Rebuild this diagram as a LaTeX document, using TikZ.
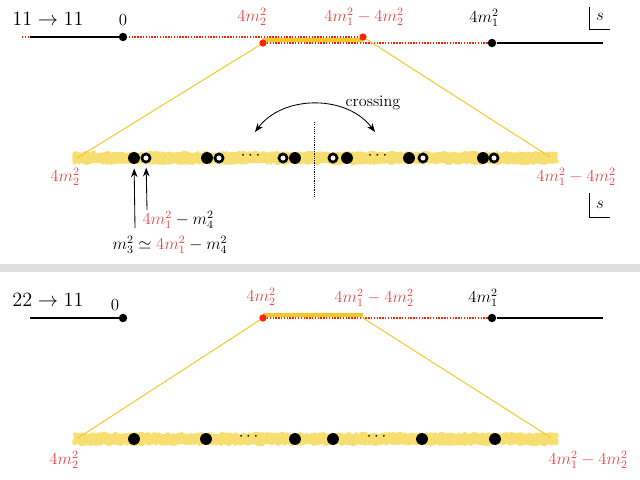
\documentclass[tikz,border=0pt]{standalone}
\usepackage{amsmath}
\usepackage{amssymb}
\usepackage{xcolor}
\usetikzlibrary{arrows.meta, positioning, calc, backgrounds, decorations.pathmorphing}
\definecolor{cRed}{RGB}{232,72,72}
\definecolor{cDot}{RGB}{255,36,0}
\definecolor{cBand}{RGB}{247,222,112}
\definecolor{cGold}{RGB}{242,200,40}
\definecolor{cSep}{RGB}{222,222,222}
\tikzset{
    linedot/.style ={circle, fill=black, inner sep=0pt, minimum size=6pt},
    reddot/.style  ={circle, fill=cDot, inner sep=0pt, minimum size=5.2pt},
    banddot/.style ={circle, fill=black, inner sep=0pt, minimum size=8.4pt},
    opendot/.style ={circle, draw=black, line width=1.9pt, fill=white, inner sep=0pt, minimum size=5.8pt},
    thresh/.style  ={line width=2pt, black},
    cutline/.style ={line width=1.2pt, cDot, dash pattern=on 1pt off 1pt},
    sheet/.style   ={line width=3pt, cGold},
    zoomline/.style={line width=0.7pt, cGold},
    band/.style    ={fill=cBand, decorate, decoration={random steps, segment length=1.6pt, amplitude=0.9pt}},
    flowarrow/.style={-{Stealth[length=2.2mm]}, semithick},
    lbl/.style     ={inner sep=1pt},
    redlbl/.style  ={inner sep=1pt, text=cRed},
}

\begin{document}
\begin{tikzpicture}[x=0.025cm, y=-0.025cm, font=\fontsize{11.5pt}{14pt}\selectfont]
    \useasboundingbox (0,0) rectangle (640,480);
    % ---- top panel: 11 -> 11
    \node[lbl, font=\Large] (proc1) at (48,19) {$11\to11$};
    \coordinate (tl) at (22,37);
    \coordinate (tlb) at (30,37);
    \coordinate (tr) at (603,43);
    \node[linedot] (zero1) at (123,37) {};
    \node[reddot] (mtwo1) at (263,43) {};
    \node[reddot] (mdiff1) at (363,37) {};
    \node[linedot] (mone1) at (492,43) {};
    \coordinate (sh1a) at (263,40);
    \coordinate (sh1b) at (363,40);
    \node[lbl] (zl1) at (123,20) {$0$};
    \node[redlbl] (ml1) at (252,17) {$4m_2^2$};
    \node[redlbl] (dl1) at (364,17) {$4m_1^2-4m_2^2$};
    \node[lbl] (ol1) at (484,18) {$4m_1^2$};
    \node[lbl] (s1) at (600,17) {$s$};
    \draw[thin] (589,7) |- (610,29);

    % zoomed band
    \coordinate (bl1) at (77,158);
    \coordinate (br1) at (550,157);
    \foreach \x/\st [count=\i] in {134/banddot,146/opendot,207/banddot,219/opendot,283/opendot,295/banddot,333/opendot,347/banddot,409/banddot,423/opendot,483/banddot,494/opendot}
        \node[\st] (t\i) at (\x,158) {};
    \node (td1) at (252,156) {$\cdots$};
    \node (td2) at (379,156) {$\cdots$};
    \node[redlbl] (bll1) at (65,177) {$4m_2^2$};
    \node[redlbl] (brl1) at (576,177) {$4m_1^2-4m_2^2$};
    \node[lbl] (s2) at (600,205) {$s$};
    \draw[thin] (589,193) |- (610,217);

    % crossing
    \coordinate (cl) at (255,132);
    \coordinate (cr) at (375,132);
    \node[lbl] (cross) at (373,103) {crossing};
    \draw[{Stealth[length=2.2mm]}-{Stealth[length=2.2mm]}, semithick] (cr) to[bend right=53] (cl);
    \draw[line width=0.6pt, dash pattern=on 0.8pt off 0.8pt] (314,122) -- (314,197);

    % thresholds below the band
    \coordinate (a1) at (135,228);
    \coordinate (a2) at (147,210);
    \node[lbl, anchor=west] (pl1) at (141,220) {$\textcolor{cRed}{4m_1^2}-m_4^2$};
    \node[lbl] (pl2) at (170,245) {$m_3^2\simeq\textcolor{cRed}{4m_1^2}-m_4^2$};
    \draw[flowarrow, shorten >=3pt] (a1) -- (t1);
    \draw[flowarrow, shorten >=3pt] (a2) -- (t2);

    % ---- bottom panel: 22 -> 11
    \node[lbl, font=\Large] (proc2) at (48,300) {$22\to11$};
    \coordinate (bl) at (30,318);
    \coordinate (br) at (603,318);
    \node[linedot] (zero2) at (123,318) {};
    \node[reddot] (mtwo2) at (263,318) {};
    \coordinate (mdiff2) at (363,318);
    \node[linedot] (mone2) at (492,318) {};
    \coordinate (sh2a) at (263,315);
    \coordinate (sh2b) at (363,315);
    \node[lbl] (zl2) at (115,305) {$0$};
    \node[redlbl] (ml2) at (261,297) {$4m_2^2$};
    \node[redlbl] (dl2) at (374,298) {$4m_1^2-4m_2^2$};
    \node[lbl] (ol2) at (483,298) {$4m_1^2$};

    \coordinate (bl2) at (78,438);
    \coordinate (br2) at (550,437);
    \foreach \x [count=\i] in {134,206,295,333,422,495}
        \node[banddot] (u\i) at (\x,439) {};
    \node (ud1) at (250,437) {$\cdots$};
    \node (ud2) at (378,437) {$\cdots$};
    \node[redlbl] (bll2) at (64,460) {$4m_2^2$};
    \node[redlbl] (brl2) at (588,460) {$4m_1^2-4m_2^2$};

    \begin{scope}[on background layer]
        \draw[line width=5pt, cSep] (0,268) -- (640,268);
        \path[band] (73,152) rectangle (558,164);
        \path[band] (73,433) rectangle (558,445);
        \draw[cutline] (tl) -- (mdiff1);
        \draw[cutline] (mtwo1) -- (mone1);
        \draw[sheet] (sh1a) -- (sh1b);
        \draw[thresh] (tlb) -- (zero1);
        \draw[thresh] (mone1) -- (tr);
        \draw[zoomline] (mtwo1) -- (bl1);
        \draw[zoomline] (mdiff1) -- (br1);
        \draw[cutline] (mtwo2) -- (mone2);
        \draw[sheet] (sh2a) -- (sh2b);
        \draw[thresh] (bl) -- (zero2);
        \draw[thresh] (mone2) -- (br);
        \draw[zoomline] (mtwo2) -- (bl2);
        \draw[zoomline] (mdiff2) -- (br2);
    \end{scope}
\end{tikzpicture}
\end{document}
